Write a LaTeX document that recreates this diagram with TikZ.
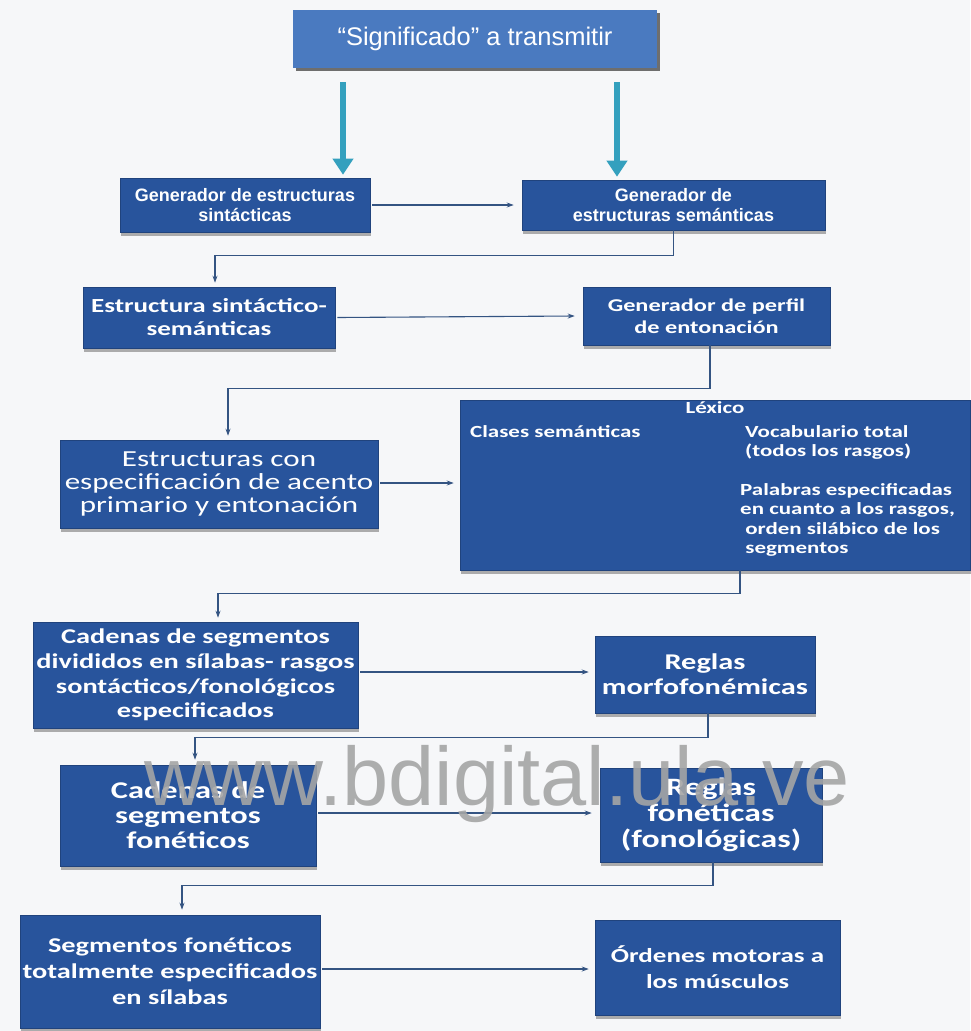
\documentclass[tikz,border=0pt]{standalone}
\usepackage{fontspec}
\setmainfont{Carlito}[FakeStretch=1.35]
\newfontfamily\arialf{Liberation Sans}
\usetikzlibrary{arrows.meta,shadows,calc}
\definecolor{boxblue}{RGB}{40,84,156}
\definecolor{topblue}{RGB}{74,122,192}
\definecolor{teal}{RGB}{52,160,190}
\definecolor{linecol}{RGB}{52,84,130}
\definecolor{bgcol}{RGB}{246,247,249}
\definecolor{marks}{RGB}{165,165,165}
\newcommand\fs[2]{\fontsize{#1}{#2}\selectfont}
\tikzset{
  box/.style={draw=boxblue!80!black, line width=0.6pt, fill=boxblue, text=white,
    align=center, inner sep=2pt, font=\bfseries,
    drop shadow={shadow xshift=1pt, shadow yshift=-3.5pt, fill=black!45, opacity=0.7}},
  topbox/.style={fill=topblue, text=white, align=center, font=\arialf\fs{25.5}{28},
    drop shadow={shadow xshift=3pt, shadow yshift=-3pt, fill=black!70, opacity=0.8}},
  conn/.style={draw=linecol, line width=1.1pt, -{Stealth[length=7pt,width=5pt]}},
  bigarrow/.style={draw=teal, line width=6pt, -{Triangle[length=16pt,width=20pt]}},
  lex/.style={text=white, font=\bfseries\fs{17}{19.5}, inner sep=0pt},
  arialtext/.style={font=\arialf\bfseries\fs{18}{20}}
}
\begin{document}
\begin{tikzpicture}[x=1pt,y=-1pt]
\useasboundingbox (0,0) rectangle (970,1031);
\fill[bgcol] (0,0) rectangle (970,1031);

% title
\node[topbox, minimum width=364pt, minimum height=58pt] (sig) at (475,39) {“Significado” a transmitir};

% row A
\node[box, arialtext, minimum width=250pt, minimum height=54pt] (a1) at (245,205) {Generador de estructuras\\sintácticas};
\node[box, arialtext, minimum width=303pt, minimum height=50pt] (a2) at (673.5,205) {Generador de\\estructuras semánticas};

% row B
\node[box, minimum width=252pt, minimum height=61pt, font=\bfseries\fs{20}{23}] (b1) at (209,317.5) {Estructura sintáctico-\\semánticas};
\node[box, minimum width=247pt, minimum height=58pt, font=\bfseries\fs{18}{22}] (b2) at (706.5,316) {Generador de perfil\\de entonación};

% row C
\node[box, minimum width=318pt, minimum height=88pt, font=\fs{23}{23}] (c1) at (219,484) {Estructuras con\\especificación de acento\\primario y entonación};
\node[box, minimum width=510pt, minimum height=170pt] (c2) at (715,485) {};
\node[lex, anchor=north] (lx) at (715,401) {Léxico};
\node[lex, anchor=north west] (cs) at (470,425) {Clases semánticas};
\node[lex, anchor=north west, align=left] (vt) at (745,425) {Vocabulario total\\(todos los rasgos)};
\node[lex, anchor=north west, align=left] (pe) at (740,483) {Palabras especificadas\\en cuanto a los rasgos,\\\ orden silábico de los\\\ segmentos};

% row D
\node[box, minimum width=325pt, minimum height=106pt, font=\bfseries\fs{21}{24.7}] (d1) at (195.5,675) {Cadenas de segmentos\\divididos en sílabas- rasgos\\sontácticos/fonológicos\\especificados};
\node[box, minimum width=220pt, minimum height=77pt, font=\bfseries\fs{22.5}{25}] (d2) at (705,674.5) {Reglas\\morfofonémicas};

% row E
\node[box, minimum width=256pt, minimum height=101pt, font=\bfseries\fs{24}{25}] (e1) at (188,815.5) {Cadenas de\\segmentos\\fonéticos};
\node[box, minimum width=222pt, minimum height=94pt, font=\bfseries\fs{25}{26}] (e2) at (711,815) {Reglas\\fonéticas\\(fonológicas)};

% row F
\node[box, minimum width=300pt, minimum height=113pt, font=\bfseries\fs{21}{26}] (f1) at (170,971.5) {Segmentos fonéticos\\totalmente especificados\\en sílabas};
\node[box, minimum width=245pt, minimum height=95pt, font=\bfseries\fs{20}{26}] (f2) at (717.5,967.5) {Órdenes motoras a\\los músculos};

% thick arrows from the title
\draw[bigarrow] (sig.south -| a1.north) ++(98,14) coordinate (s1) -- ($(a1.north)+(98,-3)$);
\draw[bigarrow] (sig.south -| a2.north) ++(-56.5,14) coordinate (s2) -- ($(a2.north)+(-56.5,-3)$);

% horizontal arrows
\draw[conn] (a1.east) ++(2,0) -- ($(a2.west)+(-8,0)$);
\draw[conn] (b1.east) ++(2,0) -- ($(b2.west)+(-8,0)$);
\draw[conn] (c1.east) ++(2,-1) -- ($(c2.west)+(-6,-2)$);
\draw[conn] (d1.east) ++(2,-3) -- ($(d2.west)+(-6,-2.5)$);
\draw[conn] (e1.east) ++(2,-2.5) -- ($(e2.west)+(-8,-2)$);
\draw[conn] (f1.east) ++(2,-2.5) -- ($(f2.west)+(-6,1.5)$);

% step-down connectors
\draw[conn] (a2.south) -- ++(0,25) -| ($(b1.north)+(6,-4)$);
\draw[conn] ($(b2.south)+(3.5,0)$) -- ++(0,43) -| ($(c1.north)+(9,-4)$);
\draw[conn] ($(c2.south)+(25,0)$) -- ++(0,23) -| ($(d1.north)+(22.5,-4)$);
\draw[conn] ($(d2.south)+(3,0)$) -- ++(0,24) -| ($(e1.north)+(7,-5)$);
\draw[conn] ($(e2.south)+(2,0)$) -- ++(0,23) -| ($(f1.north)+(12,-5)$);

% site mark printed across the lower part
\node[text=marks, opacity=0.9, font=\arialf\fs{83}{83}, inner sep=0pt] (wm) at (497,784) {www.bdigital.ula.ve};
\end{tikzpicture}
\end{document}
